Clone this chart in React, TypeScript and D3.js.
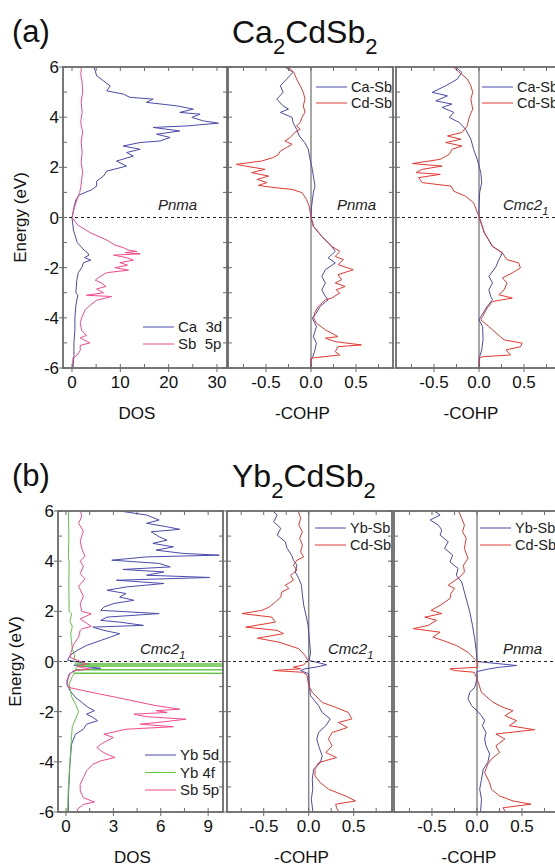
import React, { useEffect, useRef } from 'react';
import * as d3 from 'd3';

type Pt = [number, number]; // [energy (eV), value]

// ---- (a) Ca2CdSb2 ----
const caCa3d: Pt[] = [[6.05,4.4],[5.85,4.8],[5.65,5.1],[5.45,6.5],[5.25,7.9],[5.05,7.2],[4.92,10.6],[4.79,12.0],[4.72,16.8],[4.59,15.4],[4.45,21.7],[4.32,25.1],[4.19,22.3],[4.12,26.5],[3.99,24.8],[3.85,27.2],[3.76,30.3],[3.65,23.7],[3.59,16.8],[3.45,22.3],[3.32,17.5],[3.19,20.3],[3.05,18.2],[2.99,14.1],[2.85,10.6],[2.72,14.1],[2.59,11.3],[2.45,12.7],[2.25,9.2],[2.05,11.3],[1.85,7.2],[1.65,6.5],[1.45,5.1],[1.25,5.1],[1.1,4.0],[0.9,1.5],[0.7,0.8],[0.4,0.4],[0,0],[-0.5,0.3],[-1.0,1.1],[-1.3,2.5],[-1.4,3.2],[-1.5,3.5],[-1.6,2.6],[-1.7,3.9],[-1.8,2.4],[-2.0,2.0],[-2.2,1.3],[-2.5,1.0],[-3.0,0.8],[-3.1,1.2],[-3.5,0.8],[-4.0,0.6],[-4.5,0.6],[-5.0,0.4],[-5.5,0.4],[-6,0.2]];
const caSb5p: Pt[] = [[6.05,2.0],[5.7,1.8],[5.4,2.1],[5.0,2.2],[4.6,1.9],[4.2,2.1],[3.8,1.8],[3.4,2.2],[3.0,1.9],[2.6,2.1],[2.2,1.9],[1.8,2.2],[1.5,2.0],[1.2,1.8],[1.0,1.6],[0.7,1.0],[0.4,0.5],[0,0],[-0.3,1.2],[-0.6,3.7],[-0.9,7.2],[-1.1,8.9],[-1.2,10.6],[-1.3,11.7],[-1.35,13.4],[-1.4,11.0],[-1.45,14.1],[-1.5,8.6],[-1.6,11.3],[-1.7,12.7],[-1.8,9.9],[-1.9,11.5],[-2.0,8.9],[-2.1,11.7],[-2.2,7.2],[-2.35,5.8],[-2.5,4.8],[-2.6,6.0],[-2.75,7.0],[-2.85,5.1],[-3.0,6.5],[-3.1,3.0],[-3.15,8.2],[-3.3,5.1],[-3.5,3.7],[-3.7,2.7],[-4.0,2.0],[-4.2,1.7],[-4.5,2.0],[-4.7,3.0],[-4.8,1.7],[-4.9,2.7],[-5.0,3.7],[-5.1,1.7],[-5.3,1.7],[-5.5,1.0],[-5.6,0.2],[-6,0.1]];
const caPnmaCaSb: Pt[] = [[6.05,-0.31],[5.79,-0.2],[5.52,-0.27],[5.25,-0.34],[4.99,-0.31],[4.72,-0.38],[4.45,-0.31],[4.32,-0.25],[4.19,-0.34],[3.99,-0.21],[3.79,-0.2],[3.52,-0.16],[3.25,-0.13],[2.99,-0.07],[2.72,-0.03],[2.32,-0.01],[1.92,0.015],[1.65,0.026],[1.25,0.044],[0.99,0.026],[0.45,0.007],[0.03,0],[-0.35,0.026],[-0.75,0.12],[-1.15,0.23],[-1.35,0.27],[-1.61,0.19],[-1.81,0.27],[-2.08,0.16],[-2.35,0.12],[-2.61,0.16],[-2.88,0.12],[-3.15,0.16],[-3.28,0.19],[-3.55,0.1],[-3.81,0.06],[-4.01,0.015],[-4.35,0.06],[-4.75,0.026],[-5.01,0.06],[-5.28,0.044],[-5.55,0.02],[-5.68,0],[-6,0]];
const caPnmaCdSb: Pt[] = [[6.05,-0.29],[5.92,-0.23],[5.79,-0.19],[5.52,-0.16],[5.25,-0.12],[4.99,-0.085],[4.72,-0.067],[4.45,-0.085],[4.19,-0.067],[3.99,-0.1],[3.79,-0.12],[3.65,-0.16],[3.52,-0.12],[3.39,-0.18],[3.19,-0.23],[3.05,-0.29],[2.92,-0.21],[2.79,-0.27],[2.65,-0.34],[2.52,-0.36],[2.39,-0.42],[2.25,-0.55],[2.12,-0.83],[2.05,-0.73],[1.92,-0.51],[1.79,-0.66],[1.65,-0.47],[1.52,-0.6],[1.39,-0.49],[1.28,-0.585],[1.19,-0.4],[1.12,-0.21],[0.99,-0.1],[0.72,-0.05],[0.45,-0.02],[0.03,0],[-0.35,0.026],[-0.75,0.12],[-1.15,0.23],[-1.35,0.32],[-1.55,0.27],[-1.68,0.36],[-1.88,0.3],[-2.08,0.47],[-2.28,0.3],[-2.48,0.34],[-2.61,0.27],[-2.75,0.38],[-2.88,0.28],[-3.01,0.32],[-3.21,0.23],[-3.28,0.16],[-3.55,0.08],[-3.81,0.04],[-4.01,0.03],[-4.21,0.06],[-4.48,0.16],[-4.61,0.23],[-4.75,0.3],[-4.81,0.16],[-4.95,0.27],[-5.08,0.56],[-5.15,0.3],[-5.35,0.27],[-5.48,0.32],[-5.59,0.04],[-5.61,0],[-6,0]];
const caCmcCaSb: Pt[] = [[6.05,-0.28],[5.79,-0.19],[5.52,-0.24],[5.25,-0.37],[4.99,-0.52],[4.85,-0.35],[4.65,-0.48],[4.52,-0.3],[4.39,-0.41],[4.19,-0.28],[3.99,-0.33],[3.79,-0.22],[3.52,-0.15],[3.12,-0.09],[2.72,-0.06],[2.32,-0.02],[1.79,0.02],[1.39,0.03],[0.99,0.007],[0.45,0],[0.03,0],[-0.61,0.06],[-1.15,0.15],[-1.41,0.26],[-1.68,0.22],[-1.95,0.19],[-2.35,0.11],[-2.61,0.15],[-2.88,0.11],[-3.15,0.13],[-3.28,0.15],[-3.55,0.09],[-3.95,0.02],[-4.08,0],[-4.35,0.04],[-4.88,0.045],[-5.28,0.03],[-5.55,0.007],[-6,0]];
const caCmcCdSb: Pt[] = [[6.05,-0.3],[5.79,-0.22],[5.52,-0.13],[5.25,-0.09],[4.99,-0.07],[4.72,-0.09],[4.32,-0.07],[3.99,-0.11],[3.65,-0.13],[3.39,-0.19],[3.25,-0.35],[3.12,-0.2],[2.99,-0.37],[2.85,-0.19],[2.72,-0.3],[2.52,-0.33],[2.32,-0.43],[2.15,-0.74],[2.05,-0.41],[1.92,-0.63],[1.79,-0.7],[1.72,-0.43],[1.59,-0.67],[1.39,-0.63],[1.25,-0.31],[1.05,-0.28],[0.85,-0.15],[0.59,-0.06],[0.03,0],[-0.61,0.06],[-1.15,0.15],[-1.41,0.26],[-1.68,0.31],[-1.81,0.44],[-2.01,0.46],[-2.21,0.37],[-2.41,0.26],[-2.61,0.31],[-2.88,0.28],[-3.08,0.22],[-3.21,0.37],[-3.35,0.15],[-3.61,0.09],[-3.95,0.04],[-4.08,0.02],[-4.35,0.11],[-4.61,0.19],[-4.88,0.28],[-5.01,0.48],[-5.15,0.46],[-5.28,0.3],[-5.48,0.35],[-5.55,0.04],[-5.61,0],[-6,0]];

// ---- (b) Yb2CdSb2 ----
const ybYb5d: Pt[] = [[6.0,3.4],[5.84,5.1],[5.64,5.9],[5.51,5.1],[5.37,6.4],[5.27,7.2],[5.17,5.4],[4.97,5.9],[4.84,6.4],[4.71,5.5],[4.57,6.8],[4.44,5.7],[4.31,7.4],[4.24,9.7],[4.17,5.1],[4.04,2.9],[3.91,5.9],[3.77,6.6],[3.67,3.6],[3.57,6.2],[3.44,5.1],[3.35,9.1],[3.24,3.2],[3.11,6.2],[2.97,3.8],[2.84,2.6],[2.71,3.8],[2.57,3.4],[2.44,4.3],[2.31,3.0],[2.17,2.4],[2.04,2.2],[1.91,5.9],[1.77,2.6],[1.64,2.2],[1.57,3.4],[1.44,4.9],[1.37,1.7],[1.24,2.4],[1.11,3.4],[0.97,2.8],[0.84,2.2],[0.64,1.3],[0.44,0.7],[0.24,0.25],[0.05,0.1],[-0.1,1.5],[-0.15,0.5],[-0.27,2.2],[-0.35,0.6],[-0.5,0.2],[-0.9,0.05],[-1.16,0.25],[-1.43,0.6],[-1.63,1.0],[-1.83,1.4],[-1.96,1.8],[-2.1,1.3],[-2.23,1.7],[-2.36,2.0],[-2.5,1.3],[-2.7,1.1],[-2.9,0.6],[-3.3,0.35],[-4.1,0.25],[-5.4,0.15],[-6,0.15]];
const ybYb4f: Pt[] = [[6.0,0.15],[5.0,0.18],[4.1,0.15],[4.0,0.2],[3.0,0.18],[2.0,0.2],[1.9,0.35],[1.6,0.25],[1.4,0.4],[1.1,0.3],[0.8,0.35],[0.5,0.4],[0.24,0.55],[0.05,0.5],[-0.09,0.6],[-0.1,14],[-0.11,0.7],[-0.17,0.7],[-0.18,14],[-0.19,0.7],[-0.32,0.6],[-0.33,14],[-0.34,0.6],[-0.46,0.5],[-0.47,14],[-0.48,0.5],[-0.6,0.4],[-0.9,0.2],[-1.4,0.35],[-1.7,0.6],[-2.0,0.8],[-2.3,0.6],[-2.6,0.4],[-3.0,0.35],[-4.0,0.25],[-5.0,0.15],[-6.0,0.1]];
const ybSb5p: Pt[] = [[6.03,0.9],[5.8,1.0],[5.5,0.8],[5.2,1.1],[5.0,1.0],[4.8,0.9],[4.5,1.0],[4.2,1.2],[4.0,0.9],[3.8,1.1],[3.5,0.9],[3.3,1.2],[3.0,0.8],[2.6,1.1],[2.3,0.9],[2.0,1.0],[1.9,1.6],[1.7,0.9],[1.4,1.6],[1.3,1.0],[1.24,0.9],[0.97,0.8],[0.7,0.5],[0.44,0.35],[0.17,0.25],[-0.1,1.3],[-0.2,0.7],[-0.3,1.5],[-0.36,0.5],[-0.5,0.25],[-0.76,0.05],[-1.03,0.15],[-1.16,1.1],[-1.3,2.15],[-1.43,3.2],[-1.63,4.7],[-1.76,5.7],[-1.9,7.2],[-1.96,5.7],[-2.03,6.4],[-2.1,4.3],[-2.2,5.1],[-2.3,7.6],[-2.39,6.4],[-2.5,4.7],[-2.6,6.8],[-2.7,3.8],[-2.9,2.4],[-3.03,3.0],[-3.16,2.6],[-3.3,2.2],[-3.43,1.95],[-3.56,2.2],[-3.7,2.6],[-3.83,3.1],[-3.96,2.2],[-4.1,1.7],[-4.36,1.3],[-4.63,1.1],[-4.9,0.9],[-5.16,0.9],[-5.43,1.1],[-5.6,1.8],[-5.7,1.1],[-5.9,0.7],[-6.03,0.8]];
const ybCmcYbSb: Pt[] = [[6.04,-0.41],[5.84,-0.35],[5.57,-0.39],[5.31,-0.31],[5.04,-0.35],[4.77,-0.26],[4.51,-0.24],[4.24,-0.19],[4.04,-0.17],[3.84,-0.13],[3.57,-0.15],[3.31,-0.11],[3.04,-0.08],[2.64,-0.07],[2.24,-0.055],[1.84,-0.03],[1.44,-0.007],[0.91,0.007],[0.37,0.02],[0.04,0.007],[-0.13,0.2],[-0.23,0.07],[-0.29,-0.04],[-0.36,-0.09],[-0.49,0],[-0.96,0.007],[-1.36,0.02],[-1.76,0.11],[-2.03,0.15],[-2.29,0.24],[-2.56,0.19],[-2.83,0.11],[-3.09,0.09],[-3.36,0.11],[-3.76,0.15],[-4.03,0.13],[-4.29,0.055],[-4.69,0.04],[-5.09,0.045],[-5.49,0.03],[-5.96,0.045]];
const ybCmcCdSb: Pt[] = [[6.04,-0.12],[5.71,-0.09],[5.44,-0.11],[5.17,-0.07],[4.91,-0.1],[4.64,-0.07],[4.37,-0.09],[4.17,-0.055],[4.04,-0.13],[3.84,-0.17],[3.64,-0.13],[3.44,-0.2],[3.24,-0.17],[3.04,-0.26],[2.91,-0.22],[2.77,-0.3],[2.57,-0.31],[2.37,-0.37],[2.17,-0.44],[2.04,-0.52],[1.91,-0.74],[1.77,-0.41],[1.57,-0.37],[1.37,-0.7],[1.24,-0.35],[1.11,-0.28],[0.93,-0.57],[0.77,-0.33],[0.51,-0.11],[0.24,-0.04],[0.04,-0.007],[-0.13,-0.055],[-0.23,-0.17],[-0.29,-0.09],[-0.36,-0.39],[-0.43,-0.07],[-0.53,-0.02],[-0.96,0],[-1.23,0.04],[-1.63,0.15],[-1.83,0.3],[-2.03,0.44],[-2.29,0.48],[-2.43,0.33],[-2.63,0.43],[-2.83,0.26],[-3.09,0.22],[-3.36,0.26],[-3.63,0.19],[-3.83,0.31],[-4.03,0.11],[-4.29,0.07],[-4.56,0.07],[-4.83,0.13],[-5.09,0.22],[-5.36,0.41],[-5.56,0.52],[-5.69,0.3],[-5.83,0.31],[-5.96,0.33]];
const ybPnmaYbSb: Pt[] = [[6.04,-0.49],[5.84,-0.41],[5.64,-0.52],[5.44,-0.43],[5.24,-0.39],[5.04,-0.41],[4.77,-0.32],[4.51,-0.36],[4.24,-0.27],[3.97,-0.3],[3.71,-0.21],[3.44,-0.23],[3.17,-0.17],[2.77,-0.14],[2.37,-0.11],[1.97,-0.08],[1.44,-0.05],[0.91,-0.026],[0.37,-0.007],[0,0],[-0.16,0.44],[-0.23,0.25],[-0.29,0.14],[-0.4,0],[-0.69,0],[-1.03,-0.026],[-1.23,-0.08],[-1.49,-0.1],[-1.76,-0.06],[-1.96,0],[-2.16,0.05],[-2.36,0.085],[-2.56,0.06],[-2.83,0.1],[-3.09,0.085],[-3.36,0.1],[-3.69,0.14],[-4.03,0.12],[-4.29,0.07],[-4.69,0.05],[-5.09,0.03],[-5.49,0.05],[-5.96,0.04]];
const ybPnmaCdSb: Pt[] = [[6.04,-0.21],[5.71,-0.17],[5.44,-0.14],[5.17,-0.16],[4.91,-0.12],[4.51,-0.14],[4.11,-0.1],[3.84,-0.15],[3.57,-0.14],[3.37,-0.19],[3.04,-0.32],[2.91,-0.25],[2.71,-0.29],[2.51,-0.3],[2.24,-0.41],[2.04,-0.51],[1.91,-0.39],[1.77,-0.58],[1.64,-0.45],[1.44,-0.54],[1.31,-0.71],[1.17,-0.41],[0.97,-0.49],[0.84,-0.38],[0.64,-0.23],[0.37,-0.1],[0.11,-0.03],[0,0],[-0.23,0.01],[-0.29,-0.3],[-0.36,-0.25],[-0.43,-0.03],[-0.69,0],[-1.23,0.05],[-1.63,0.18],[-1.83,0.29],[-1.96,0.4],[-2.16,0.31],[-2.36,0.44],[-2.56,0.36],[-2.72,0.64],[-2.89,0.21],[-3.09,0.31],[-3.36,0.21],[-3.63,0.25],[-3.89,0.16],[-4.09,0.12],[-4.43,0.085],[-4.83,0.14],[-5.09,0.16],[-5.36,0.25],[-5.56,0.4],[-5.69,0.6],[-5.83,0.29],[-5.96,0.31]];

const energyTicks = [-6, -5, -4, -3, -2, -1, 0, 1, 2, 3, 4, 5, 6];
const cohpTicks = [-0.75, -0.5, -0.25, 0, 0.25, 0.5, 0.75];
const cohpLabels = [-0.5, 0, 0.5];

const BLUE = '#4b4bab';
const PINK = '#f24a8d';
const RED = '#e23a32';
const GREEN = '#62c244';
const FRAME = '#6a6a6a';
const FONT = '"Liberation Sans", Arial, Helvetica, sans-serif';

const App = () => {
  const ref = useRef<SVGSVGElement>(null);

  useEffect(() => {
    const svg = d3.select(ref.current);
    svg.selectAll('*').remove();
    const defs = svg.append('defs');
    let clipN = 0;

    function panel(o: any) {
      const ys = d3.scaleLinear().domain([-6, 6]).range([o.y1, o.y0]);
      const xs = d3.scaleLinear().domain(o.domain).range([o.x0, o.x1]);
      const g = svg.append('g');
      const id = 'clip' + clipN++;
      defs.append('clipPath').attr('id', id).append('rect')
        .attr('x', o.x0).attr('y', o.y0).attr('width', o.x1 - o.x0).attr('height', o.y1 - o.y0);

      if (o.zero) {
        g.append('line').attr('x1', xs(0)).attr('x2', xs(0)).attr('y1', o.y0).attr('y2', o.y1)
          .attr('stroke', '#8a8a8a').attr('stroke-width', 1.5);
      }
      const line = d3.line<Pt>().x((d) => xs(d[1])).y((d) => ys(d[0]));
      o.series.forEach((s: any) => {
        g.append('path').attr('d', line(s.data)).attr('fill', 'none')
          .attr('stroke', s.color).attr('stroke-width', 1).attr('clip-path', `url(#${id})`);
      });
      g.append('line').attr('x1', o.x0).attr('x2', o.x1).attr('y1', ys(0)).attr('y2', ys(0))
        .attr('stroke', '#222').attr('stroke-width', 1).attr('stroke-dasharray', '3,3');

      // ticks
      energyTicks.forEach((e) => {
        const major = e % 2 === 0;
        const y = ys(e);
        g.append('line').attr('x1', o.x0 - (major ? 4 : 0)).attr('x2', o.x0 + 4).attr('y1', y).attr('y2', y)
          .attr('stroke', FRAME).attr('stroke-width', 1);
        g.append('line').attr('x1', o.x1 - 4).attr('x2', o.x1).attr('y1', y).attr('y2', y)
          .attr('stroke', FRAME).attr('stroke-width', 1);
      });
      o.ticks.forEach((t: number) => {
        const x = xs(t);
        const major = o.labels.includes(t);
        g.append('line').attr('x1', x).attr('x2', x).attr('y1', o.y0).attr('y2', o.y0 + 4)
          .attr('stroke', FRAME).attr('stroke-width', 1);
        g.append('line').attr('x1', x).attr('x2', x).attr('y1', o.y1 - 4).attr('y2', o.y1 + (major ? 4 : 0))
          .attr('stroke', FRAME).attr('stroke-width', 1);
      });
      o.labels.forEach((t: number) => {
        g.append('text').attr('x', xs(t)).attr('y', o.y1 + 20).attr('text-anchor', 'middle')
          .attr('font-size', 17).attr('font-family', FONT).attr('fill', '#111').text(o.fmt(t));
      });
      if (o.yLabels) {
        [-6, -4, -2, 0, 2, 4, 6].forEach((e) => {
          g.append('text').attr('x', o.x0 - 4).attr('y', ys(e) + 6).attr('text-anchor', 'end')
            .attr('font-size', 17).attr('font-family', FONT).attr('fill', '#111').text(String(e));
        });
        g.append('text').attr('transform', `translate(${o.x0 - 37},${ys(0)}) rotate(-90)`)
          .attr('text-anchor', 'middle').attr('font-size', 17).attr('font-family', FONT).attr('fill', '#111')
          .text('Energy (eV)');
      }
      g.append('text').attr('x', (o.x0 + o.x1) / 2 - 8).attr('y', o.y1 + 51).attr('text-anchor', 'middle')
        .attr('font-size', 17).attr('font-family', FONT).attr('fill', '#111').text(o.title);

      g.append('rect').attr('x', o.x0).attr('y', o.y0).attr('width', o.x1 - o.x0).attr('height', o.y1 - o.y0)
        .attr('fill', 'none').attr('stroke', FRAME).attr('stroke-width', 1.8);

      // space group
      const sg = g.append('text').attr('x', o.sgX).attr('y', o.y0 + 143).attr('font-size', 15)
        .attr('font-style', 'italic').attr('font-family', FONT).attr('fill', '#222');
      if (o.sg === 'Pnma') sg.text('Pnma');
      else {
        sg.append('tspan').text('Cmc2');
        sg.append('tspan').attr('font-size', 11).attr('dy', 5).text('1');
      }

      // legend
      o.legend.forEach((l: any, i: number) => {
        const ly = o.y0 + o.legY + i * o.legStep;
        g.append('line').attr('x1', o.legX).attr('x2', o.legX + 31).attr('y1', ly).attr('y2', ly)
          .attr('stroke', l.color).attr('stroke-width', 1);
        g.append('text').attr('x', o.legX + 35).attr('y', ly + 5).attr('font-size', o.legFont)
          .attr('font-family', FONT).attr('fill', '#222').attr('xml:space', 'preserve').text(l.name);
      });
    }

    function heading(x: number, y: number, tag: string, el: string) {
      svg.append('text').attr('x', x).attr('y', y).attr('font-size', 31).attr('font-family', FONT)
        .attr('fill', '#111').text(tag);
      const t = svg.append('text').attr('x', 232).attr('y', y + 1).attr('font-size', 32)
        .attr('font-family', FONT).attr('fill', '#111');
      t.append('tspan').text(el);
      t.append('tspan').attr('font-size', 22).attr('dy', 11).text('2');
      t.append('tspan').attr('dy', -11).text('CdSb');
      t.append('tspan').attr('font-size', 22).attr('dy', 11).text('2');
    }

    const fmtInt = (t: number) => String(t);
    const fmtCohp = (t: number) => t.toFixed(1);

    heading(12, 42, '(a)', 'Ca');
    heading(12, 486, '(b)', 'Yb');

    const rowA = { y0: 67, y1: 368 };
    const rowB = { y0: 511, y1: 812 };

    panel({ ...rowA, x0: 63, x1: 227, domain: [-1.86, 32.07], ticks: [0, 5, 10, 15, 20, 25, 30],
      labels: [0, 10, 20, 30], fmt: fmtInt, yLabels: true, zero: false, title: 'DOS',
      series: [{ data: caCa3d, color: BLUE }, { data: caSb5p, color: PINK }],
      sg: 'Pnma', sgX: 158, legX: 143, legY: 260, legStep: 17, legFont: 15,
      legend: [{ name: 'Ca  3d', color: BLUE }, { name: 'Sb  5p', color: PINK }] });
    panel({ ...rowA, x0: 228, x1: 393, domain: [-0.922, 0.911], ticks: cohpTicks, labels: cohpLabels,
      fmt: fmtCohp, zero: true, title: '-COHP',
      series: [{ data: caPnmaCaSb, color: BLUE }, { data: caPnmaCdSb, color: RED }],
      sg: 'Pnma', sgX: 337, legX: 316, legY: 20, legStep: 16, legFont: 14.5,
      legend: [{ name: 'Ca-Sb', color: BLUE }, { name: 'Cd-Sb', color: RED }] });
    panel({ ...rowA, x0: 396, x1: 562, domain: [-0.922, 0.922], ticks: cohpTicks, labels: cohpLabels,
      fmt: fmtCohp, zero: true, title: '-COHP',
      series: [{ data: caCmcCaSb, color: BLUE }, { data: caCmcCdSb, color: RED }],
      sg: 'Cmc', sgX: 503, legX: 482, legY: 20, legStep: 16, legFont: 14.5,
      legend: [{ name: 'Ca-Sb', color: BLUE }, { name: 'Cd-Sb', color: RED }] });

    panel({ ...rowB, x0: 58, x1: 223, domain: [-0.506, 9.94], ticks: [0, 1.5, 3, 4.5, 6, 7.5, 9],
      labels: [0, 3, 6, 9], fmt: fmtInt, yLabels: true, zero: false, title: 'DOS',
      series: [{ data: ybYb5d, color: BLUE }, { data: ybYb4f, color: GREEN }, { data: ybSb5p, color: PINK }],
      sg: 'Cmc', sgX: 140, legX: 145, legY: 244, legStep: 17.5, legFont: 15,
      legend: [{ name: 'Yb 5d', color: BLUE }, { name: 'Yb 4f', color: GREEN }, { name: 'Sb 5p', color: PINK }] });
    panel({ ...rowB, x0: 227, x1: 392, domain: [-0.908, 0.926], ticks: cohpTicks, labels: cohpLabels,
      fmt: fmtCohp, zero: true, title: '-COHP',
      series: [{ data: ybCmcYbSb, color: BLUE }, { data: ybCmcCdSb, color: RED }],
      sg: 'Cmc', sgX: 328, legX: 315, legY: 17, legStep: 17, legFont: 14.5,
      legend: [{ name: 'Yb-Sb', color: BLUE }, { name: 'Cd-Sb', color: RED }] });
    panel({ ...rowB, x0: 394, x1: 560, domain: [-0.922, 0.922], ticks: cohpTicks, labels: cohpLabels,
      fmt: fmtCohp, zero: true, title: '-COHP',
      series: [{ data: ybPnmaYbSb, color: BLUE }, { data: ybPnmaCdSb, color: RED }],
      sg: 'Pnma', sgX: 503, legX: 480, legY: 17, legStep: 17, legFont: 14.5,
      legend: [{ name: 'Yb-Sb', color: BLUE }, { name: 'Cd-Sb', color: RED }] });
  }, []);

  return (
    <svg ref={ref} width={555} height={867}
      style={{ position: 'absolute', left: 0, top: 0, background: '#fff' }} />
  );
};

export default App;
